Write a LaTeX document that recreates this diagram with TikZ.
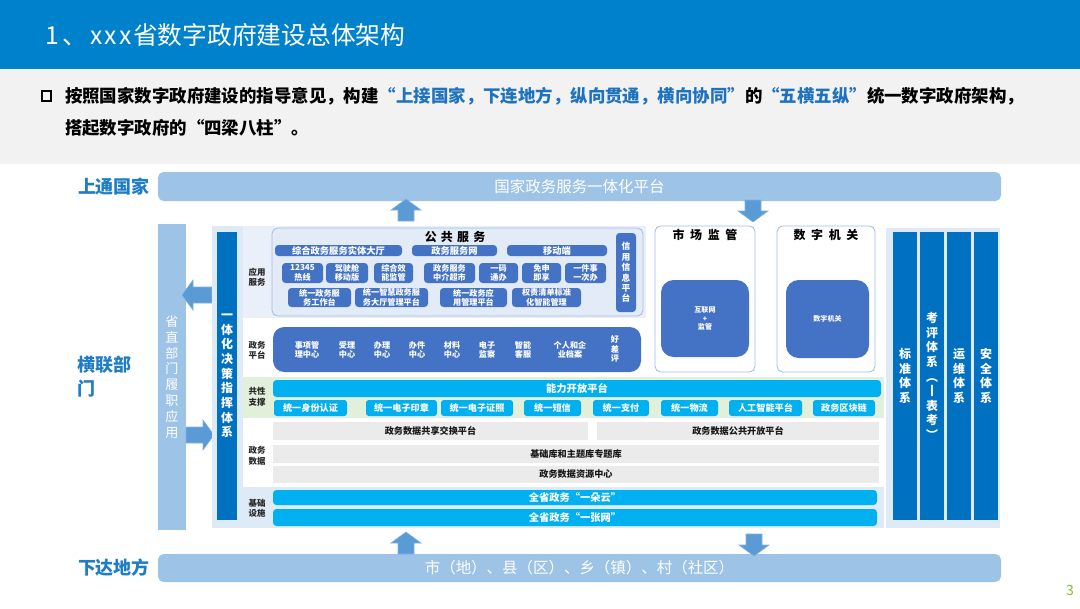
\documentclass[tikz,border=0pt]{standalone}
\usepackage{fontspec}
\setmainfont{Noto Sans CJK SC}
\usetikzlibrary{positioning}

\definecolor{titlebg}{HTML}{0081CC}
\definecolor{greybg}{HTML}{F2F2F2}
\definecolor{lblue}{HTML}{9DC3E6}
\definecolor{frameblue}{HTML}{DEEBF7}
\definecolor{appbg}{HTML}{EAF0F9}
\definecolor{panelfill}{HTML}{E3EBF7}
\definecolor{paneledge}{HTML}{A4BCE4}
\definecolor{dblue}{HTML}{4472C4}
\definecolor{sysblue}{HTML}{0070C0}
\definecolor{cyanb}{HTML}{00B0F0}
\definecolor{greyrow}{HTML}{EBEBEB}
\definecolor{greenbg}{HTML}{E2EFDA}
\definecolor{arrowc}{HTML}{5B9BD5}
\definecolor{arrowedge}{HTML}{7FB0DE}
\definecolor{lbltext}{HTML}{1F7DC6}
\definecolor{quoteblue}{HTML}{1F72BD}
\definecolor{pgnum}{HTML}{8DB83A}

% box from (x1,y1) to (x2,y2) in pixel units
\newcommand\blk[7]{\node[#2, minimum width={(#5-#3)*0.025cm}, minimum height={(#6-#4)*0.025cm}] (#1) at ({(#3+#5)/2},{(#4+#6)/2}) {#7};}
% block arrow centred at (x,y), turned by angle, half length
\newcommand\barr[4]{\filldraw[arrowc, draw=arrowedge, shift={(#1,#2)}, rotate=#3] (0,-#4) -- (15,{-#4+11}) -- (8,{-#4+11}) -- (8,#4) -- (-8,#4) -- (-8,{-#4+11}) -- (-15,{-#4+11}) -- cycle;}

\begin{document}
\begin{tikzpicture}[x=0.025cm, y=-0.025cm,
  every node/.style={inner sep=0pt, outer sep=0pt, align=center},
  lbl/.style={text=lbltext, font=\bfseries\fontsize{12.8}{17}\selectfont},
  lbar/.style={fill=lblue, rounded corners=4pt, text=white, font=\fontsize{11}{13}\selectfont},
  vbar/.style={fill=lblue, text=white, font=\fontsize{9.3}{11.3}\selectfont},
  frame/.style={fill=frameblue},
  col/.style={fill=sysblue, text=white, font=\bfseries\fontsize{8.5}{10.4}\selectfont},
  rowlbl/.style={text=black!85, font=\bfseries\fontsize{6}{7.4}\selectfont},
  dbox/.style={fill=dblue, rounded corners=2.5pt, text=white, font=\bfseries\fontsize{5.8}{6.6}\selectfont},
  wide/.style={fill=dblue, rounded corners=2.5pt, text=white, font=\bfseries\fontsize{6.6}{7.6}\selectfont},
  cbox/.style={fill=cyanb, rounded corners=2pt, text=white, font=\bfseries\fontsize{6.5}{7.5}\selectfont},
  cbar/.style={fill=cyanb, rounded corners=2.5pt, text=white, font=\bfseries\fontsize{7.3}{8.5}\selectfont},
  gbox/.style={fill=greyrow, text=black!90, font=\bfseries\fontsize{6.5}{7.5}\selectfont},
  panel/.style={fill=white, draw=paneledge, line width=0.6pt, rounded corners=4pt},
  paneltitle/.style={font=\bfseries\fontsize{8.5}{10}\selectfont},
  inbox/.style={fill=dblue, rounded corners=9pt, text=white, font=\bfseries\fontsize{5}{6.3}\selectfont}]
  \useasboundingbox (0,0) rectangle (1080,608);

  % header
  \fill[titlebg] (0,0) rectangle (1080,69);
  \fill[greybg] (0,69) rectangle (1080,164);
  \node[anchor=west, text=white, font=\fontsize{17.6}{20}\selectfont] (title) at (45,35)
    {1\hspace{3pt}、\hspace{2pt}x\hspace{1.5pt}x\hspace{1.5pt}x\hspace{1pt}省数字政府建设总体架构};
  \node[draw, line width=1.5pt, minimum size=0.24cm] (bul) at (46.5,96) {};
  \node[anchor=west, font=\bfseries\fontsize{12.4}{15}\selectfont] (line1) at (65,96)
    {按照国家数字政府建设的指导意见，构建\textcolor{quoteblue}{“上接国家，下连地方，纵向贯通，横向协同”}的\textcolor{quoteblue}{“五横五纵”}统一数字政府架构，};
  \node[anchor=west, font=\bfseries\fontsize{12.4}{15}\selectfont] (line2) at (65,128) {搭起数字政府的“四梁八柱”。};

  % top and bottom bars
  \blk{natl}{lbar}{158}{172}{1001}{201}{国家政务服务一体化平台}
  \blk{local}{lbar}{158}{554}{1001}{582}{市（地）、县（区）、乡（镇）、村（社区）}
  \blk{prov}{vbar}{158}{224}{186}{530}{省\\直\\部\\门\\履\\职\\应\\用}
  \node[lbl, left=0.2cm of natl] (up) {上通国家};
  \node[lbl, left=0.2cm of local] (down) {下达地方};
  \node[lbl, align=left, left=0.65cm of prov] (side) {横联部\\门};

  % arrows
  \barr{406}{210}{0}{11}
  \barr{753}{211}{180}{11}
  \barr{197}{295}{90}{15}
  \barr{200}{435}{-90}{14}
  \barr{406}{543}{0}{11}
  \barr{754}{545}{180}{11}

  % middle frame
  \blk{mid}{frame}{212}{226}{884}{528}{}
  \fill[white] (243,226) rectangle (884,487);
  \fill[appbg] (243,226) rectangle (646,318);
  \fill[greenbg] (243,377) rectangle (884,418);
  \blk{cmd}{col}{217}{232}{237}{520}{一\\体\\化\\决\\策\\指\\挥\\体\\系}

  % row labels
  \node[rowlbl] (lApp) at (257,277) {应用\\服务};
  \node[rowlbl] (lPlat) at (257,350) {政务\\平台};
  \node[rowlbl] (lSup) at (257,397) {共性\\支撑};
  \node[rowlbl] (lData) at (257,456) {政务\\数据};
  \node[rowlbl] (lInf) at (257,508) {基础\\设施};

  % public services
  \blk{pubsvc}{panel, fill=panelfill}{272}{228}{643}{316}{}
  \node[paneltitle] (pubT) at (455,237) {公\hspace{3pt}共\hspace{3pt}服\hspace{3pt}务};
  \blk{hall}{wide}{275}{245}{402}{256}{综合政务服务实体大厅}
  \blk{web}{wide}{412}{245}{497}{256}{政务服务网}
  \blk{mob}{wide}{507}{245}{607}{256}{移动端}
  \blk{hot}{dbox}{282}{263}{323}{283}{12345\\热线}
  \blk{cock}{dbox}{326}{263}{368}{283}{驾驶舱\\移动版}
  \blk{eff}{dbox}{374}{263}{413}{283}{综合效\\能监管}
  \blk{agent}{dbox}{424}{263}{475}{283}{政务服务\\中介超市}
  \blk{code}{dbox}{479}{263}{518}{283}{一码\\通办}
  \blk{free}{dbox}{522}{263}{561}{283}{免申\\即享}
  \blk{once}{dbox}{565}{263}{606}{283}{一件事\\一次办}
  \blk{desk}{dbox}{288}{288}{351}{307}{统一政务服\\务工作台}
  \blk{hallmg}{dbox}{355}{288}{428}{307}{统一智慧政务服\\务大厅管理平台}
  \blk{appmg}{dbox}{440}{288}{507}{307}{统一政务应\\用管理平台}
  \blk{power}{dbox}{512}{288}{581}{307}{权责清单标准\\化智能管理}
  \blk{credit}{dbox, font=\bfseries\fontsize{6.2}{7.4}\selectfont}{616}{233}{636}{312}{信\\用\\信\\息\\平\\台}

  % market supervision and digital office
  \blk{mkt}{panel}{655}{226}{755}{372}{}
  \node[paneltitle] (mktT) at (705,235) {市\hspace{4pt}场\hspace{4pt}监\hspace{4pt}管};
  \blk{mktIn}{inbox}{661}{280}{749}{357}{互联网\\+\\监管}
  \blk{dig}{panel}{777}{226}{875}{372}{}
  \node[paneltitle] (digT) at (826,235) {数\hspace{4pt}字\hspace{4pt}机\hspace{4pt}关};
  \blk{digIn}{inbox}{786}{280}{869}{358}{数字机关}

  % government platform
  \blk{plat}{dbox, rounded corners=8pt}{273}{327}{641}{372}{}
  \node[dbox, fill=none] (p1) at (307,350) {事项管\\理中心};
  \node[dbox, fill=none] (p2) at (347,350) {受理\\中心};
  \node[dbox, fill=none] (p3) at (382,350) {办理\\中心};
  \node[dbox, fill=none] (p4) at (417,350) {办件\\中心};
  \node[dbox, fill=none] (p5) at (452,350) {材料\\中心};
  \node[dbox, fill=none] (p6) at (487,350) {电子\\监察};
  \node[dbox, fill=none] (p7) at (523,350) {智能\\客服};
  \node[dbox, fill=none] (p8) at (570,350) {个人和企\\业档案};
  \node[dbox, fill=none] (p9) at (615,349) {好\\差\\评};

  % common support
  \blk{open}{cbar}{273}{380}{881}{397}{能力开放平台}
  \blk{id}{cbox}{274}{400}{347}{416}{统一身份认证}
  \blk{seal}{cbox}{366}{400}{437}{416}{统一电子印章}
  \blk{lic}{cbox}{441}{400}{513}{416}{统一电子证照}
  \blk{sms}{cbox}{524}{400}{581}{416}{统一短信}
  \blk{pay}{cbox}{593}{400}{649}{416}{统一支付}
  \blk{logi}{cbox}{661}{400}{718}{416}{统一物流}
  \blk{ai}{cbox}{729}{400}{802}{416}{人工智能平台}
  \blk{chain}{cbox}{813}{400}{875}{416}{政务区块链}

  % government data
  \blk{share}{gbox}{273}{422}{588}{440}{政务数据共享交换平台}
  \blk{pub}{gbox}{597}{422}{879}{440}{政务数据公共开放平台}
  \blk{base}{gbox}{273}{445}{879}{463}{基础库和主题库专题库}
  \blk{res}{gbox}{273}{466}{879}{483}{政务数据资源中心}

  % infrastructure
  \blk{cloud}{cbar}{273}{490}{877}{505}{全省政务“一朵云”}
  \blk{net}{cbar}{273}{509}{877}{526}{全省政务“一张网”}

  % systems on the right
  \blk{sysfr}{frame}{886}{228}{1000}{528}{}
  \blk{std}{col}{893}{232}{917}{520}{标\\准\\体\\系}
  \blk{eval}{col}{920}{232}{944}{520}{考\\评\\体\\系\\︵\\丨\\表\\考\\︶}
  \blk{ops}{col}{947}{232}{971}{520}{运\\维\\体\\系}
  \blk{sec}{col}{974}{232}{998}{520}{安\\全\\体\\系}

  \node[text=pgnum, font=\fontsize{10}{12}\selectfont] (pgno) at (1070,590) {3};
\end{tikzpicture}
\end{document}
